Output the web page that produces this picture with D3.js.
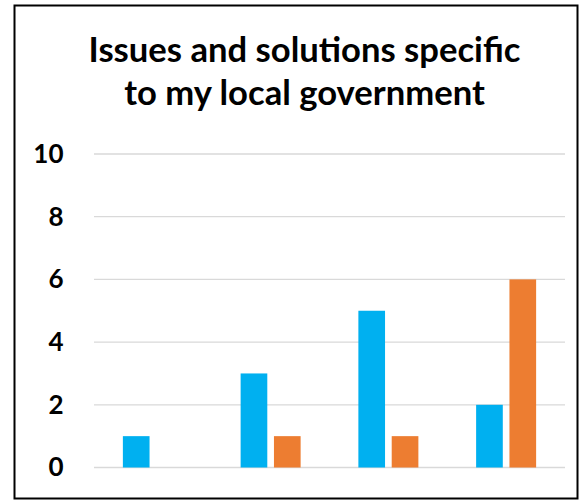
<!DOCTYPE html>
<html>
<head>
<meta charset="utf-8">
<script src="https://cdn.jsdelivr.net/npm/d3@7"></script>
<style>
  html, body { margin: 0; padding: 0; background: #fff; }
  svg { display: block; }
  text { font-family: Lato, "Open Sans", sans-serif; font-weight: bold; fill: #000; }
</style>
</head>
<body>
<svg id="chart" width="580" height="502"></svg>
<script>
const titleLines = ["Issues and solutions specific", "to my local government"];
const categories = ["A", "B", "C", "D"];
const seriesNames = ["Series 1", "Series 2"];
const seriesBlue = [1, 3, 5, 2];
const seriesOrange = [0, 1, 1, 6];
const yTicks = [0, 2, 4, 6, 8, 10];
const colors = ["#00B0F0", "#ED7D31"];

const svg = d3.select("#chart");

// outer border
svg.append("rect")
  .attr("x", 14.5).attr("y", 5.5)
  .attr("width", 563).attr("height", 493)
  .attr("fill", "#fff").attr("stroke", "#000").attr("stroke-width", 2);

// title
const titleG = svg.append("g");
const baselines = [62, 105];
titleLines.forEach((t, i) => {
  titleG.append("text")
    .attr("x", 304.5).attr("y", baselines[i])
    .attr("text-anchor", "middle")
    .style("font-size", "30px")
    .text(t);
});
const firstNode = titleG.select("text").node();
const w = firstNode.getComputedTextLength();
const fs = 30 * 432 / w;
titleG.selectAll("text").style("font-size", fs + "px");

const plotLeft = 94, plotRight = 565, plotTop = 154, plotBottom = 467.5;

const y = d3.scaleLinear().domain([0, 10]).range([plotBottom, plotTop]);
const x0 = d3.scaleBand().domain(categories).range([plotLeft, plotRight]).paddingInner(0).paddingOuter(0);
const groupPad = (x0.bandwidth() - 60) / 2;
const x1 = d3.scaleBand().domain(seriesNames)
  .range([groupPad, x0.bandwidth() - groupPad]).paddingInner(0.2).paddingOuter(0);

// gridlines
svg.append("g").selectAll("line").data(yTicks).join("line")
  .attr("x1", plotLeft).attr("x2", plotRight)
  .attr("y1", d => y(d)).attr("y2", d => y(d))
  .attr("stroke", "#D9D9D9").attr("stroke-width", 1.3);

// y axis labels
const yAxis = d3.axisLeft(y).tickValues(yTicks).tickSize(0).tickPadding(0);
const ya = svg.append("g").attr("transform", "translate(63.5,0)").call(yAxis);
ya.select(".domain").remove();
ya.selectAll("text")
  .style("font-family", "Lato, sans-serif")
  .style("font-weight", "bold")
  .style("font-size", "26px")
  .attr("fill", "#000");

// bars
const data = categories.map((c, i) => ({ cat: c, vals: [seriesBlue[i], seriesOrange[i]] }));
const groups = svg.append("g").selectAll("g").data(data).join("g")
  .attr("transform", d => `translate(${x0(d.cat)},0)`);
groups.selectAll("rect")
  .data(d => d.vals.map((v, j) => ({ name: seriesNames[j], v, j })))
  .join("rect")
  .attr("x", d => x1(d.name))
  .attr("width", x1.bandwidth())
  .attr("y", d => y(d.v))
  .attr("height", d => y(0) - y(d.v))
  .attr("fill", d => colors[d.j]);
</script>
</body>
</html>
